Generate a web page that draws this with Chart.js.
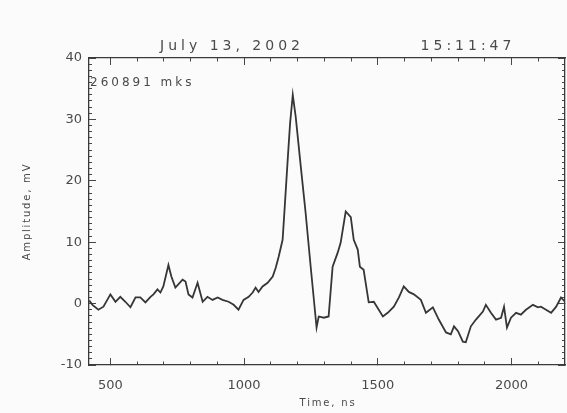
<!DOCTYPE html>
<html><head><meta charset="utf-8">
<script src="https://cdn.jsdelivr.net/npm/chart.js@4.4.0/dist/chart.umd.min.js"></script>
<style>html,body{margin:0;padding:0;background:#fbfbfb;} #wrap{width:567px;height:413px;} canvas{background:#fbfbfb;}</style>
</head><body><div id="wrap"><canvas id="c" width="567" height="413"></canvas></div>
<script>
const titleDate = "July 13, 2002";
const titleTime = "15:11:47";
const annotationText = "260891 mks";
const xAxisTitle = "Time, ns";
const yAxisTitle = "Amplitude, mV";
const xTickValues = [500, 1000, 1500, 2000];
const xMinorTickValues = [500,600,700,800,900,1000,1100,1200,1300,1400,1500,1600,1700,1800,1900,2000,2100];
const yTickValues = [-10, 0, 10, 20, 30, 40];
const yMinorTickValues = [-10,-9,-8,-7,-6,-5,-4,-3,-2,-1,0,1,2,3,4,5,6,7,8,9,10,11,12,13,14,15,16,17,18,19,20,21,22,23,24,25,26,27,28,29,30,31,32,33,34,35,36,37,38,39,40];
const timeNs = [421,433,455,474,500,519,537,556,575,594,612,631,650,661,676,687,698,717,728,743,770,781,792,807,826,845,863,882,901,919,942,961,979,998,1017,1032,1043,1054,1069,1088,1107,1118,1129,1144,1152,1163,1172,1182,1193,1212,1230,1249,1271,1279,1298,1316,1331,1350,1361,1380,1399,1410,1425,1433,1447,1466,1485,1519,1537,1560,1579,1597,1616,1635,1661,1680,1706,1728,1755,1773,1785,1800,1818,1829,1848,1867,1893,1904,1923,1942,1961,1972,1983,1998,2017,2035,2054,2080,2099,2110,2129,2148,2167,2185,2200];
const amplitudeMv = [0.5,-0.2,-1.0,-0.5,1.5,0.3,1.1,0.3,-0.6,1.0,1.0,0.2,1.1,1.5,2.3,1.8,2.8,6.3,4.4,2.6,3.9,3.6,1.5,1.0,3.4,0.3,1.1,0.6,1.0,0.6,0.3,-0.2,-1.0,0.6,1.1,1.8,2.6,1.9,2.8,3.4,4.4,5.8,7.6,10.4,15.8,23.4,29.4,34.0,30.4,22.3,14.8,6.0,-3.9,-2.1,-2.3,-2.1,6.0,8.3,9.9,15.0,14.1,10.4,8.8,6.0,5.5,0.2,0.3,-2.1,-1.5,-0.5,1.0,2.8,1.9,1.5,0.6,-1.5,-0.6,-2.6,-4.7,-5.0,-3.7,-4.5,-6.2,-6.3,-3.7,-2.6,-1.3,-0.2,-1.5,-2.6,-2.3,-0.5,-3.9,-2.3,-1.5,-1.8,-1.0,-0.2,-0.6,-0.5,-1.0,-1.5,-0.5,1.0,0.3];

const points = timeNs.map((t, i) => ({x: t, y: amplitudeMv[i]}));
const FONT = 'DejaVu Sans';
const INK = '#4a4a4a';
const AXIS = '#3a3a3a';
const X_MIN = 420, X_MAX = 2200, Y_MIN = -10, Y_MAX = 40;

function axis(opts) {
  const isX = opts.position === 'top' || opts.position === 'bottom';
  const vals = opts.values;
  return {
    type: 'linear',
    display: true,
    position: opts.position,
    weight: opts.weight,
    min: isX ? X_MIN : Y_MIN,
    max: isX ? X_MAX : Y_MAX,
    afterBuildTicks: s => { s.ticks = vals.map(v => ({ value: v })); },
    afterFit: s => { if (isX) s.height = opts.size; else s.width = opts.size; },
    grid: { display: true, drawOnChartArea: false, drawTicks: true, tickLength: -opts.len, tickColor: '#474747', tickWidth: 1, color: '#474747' },
    border: { display: !!opts.border, color: AXIS, width: 1.3 },
    ticks: opts.labels ? {
      display: true, font: { family: FONT, size: 13 }, color: INK, padding: opts.pad,
      maxRotation: 0, autoSkip: false, callback: v => String(v)
    } : { display: false }
  };
}

const textPlugin = {
  id: 'texts',
  afterDraw(chart) {
    const ctx = chart.ctx;
    const a = chart.chartArea;
    ctx.save();
    ctx.fillStyle = INK;
    ctx.textBaseline = 'middle';
    ctx.font = '14px "' + FONT + '"';
    ctx.letterSpacing = '4px';
    ctx.textAlign = 'center';
    ctx.fillText(titleDate, 232, 46);
    ctx.fillText(titleTime, 468, 46);
    ctx.font = '12px "' + FONT + '"';
    ctx.letterSpacing = '3px';
    ctx.textAlign = 'left';
    ctx.fillText(annotationText, a.left + 1, 83);
    ctx.font = '10px "' + FONT + '"';
    ctx.letterSpacing = '1.8px';
    ctx.textAlign = 'center';
    ctx.fillText(xAxisTitle, (a.left + a.right) / 2 + 1, 403);
    ctx.translate(27, (a.top + a.bottom) / 2);
    ctx.rotate(-Math.PI / 2);
    ctx.fillText(yAxisTitle, 0, 0);
    ctx.restore();
  }
};

new Chart(document.getElementById('c'), {
  type: 'line',
  data: {
    datasets: [{
      data: points,
      borderColor: '#363636',
      borderWidth: 1.8,
      pointRadius: 0,
      tension: 0,
      fill: false
    }]
  },
  options: {
    responsive: false,
    animation: false,
    devicePixelRatio: 1,
    layout: { padding: { top: 58, right: 2, left: 0, bottom: 0 } },
    plugins: { legend: { display: false }, tooltip: { enabled: false }, title: { display: false } },
    scales: {
      x: axis({ position: 'bottom', weight: 1, values: xTickValues, size: 48, len: 7, border: true, labels: true, pad: 20 }),
      xMinor: axis({ position: 'bottom', weight: 0, values: xMinorTickValues, size: 0, len: 3.5 }),
      xTop: axis({ position: 'top', weight: 1, values: xTickValues, size: 0, len: 7, border: true }),
      xTopMinor: axis({ position: 'top', weight: 0, values: xMinorTickValues, size: 0, len: 3.5 }),
      y: axis({ position: 'left', weight: 1, values: yTickValues, size: 89, len: 7, border: true, labels: true, pad: 14 }),
      yMinor: axis({ position: 'left', weight: 0, values: yMinorTickValues, size: 0, len: 3 }),
      yRight: axis({ position: 'right', weight: 1, values: yTickValues, size: 0, len: 7, border: true }),
      yRightMinor: axis({ position: 'right', weight: 0, values: yMinorTickValues, size: 0, len: 3 })
    }
  },
  plugins: [textPlugin]
});
</script>
</body></html>
